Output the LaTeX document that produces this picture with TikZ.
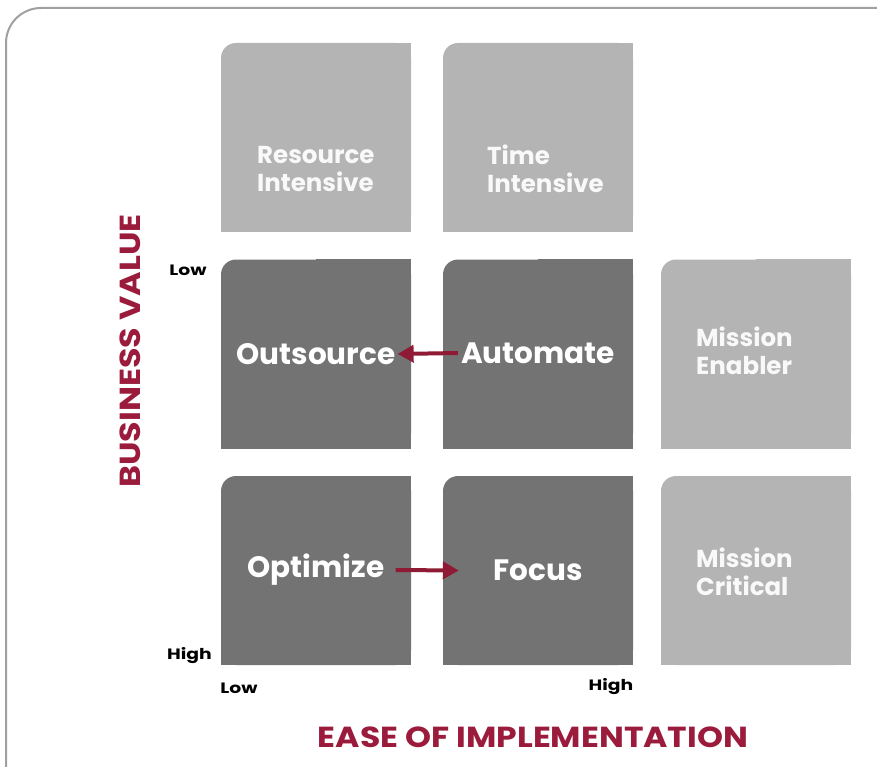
\documentclass[tikz,border=0pt]{standalone}
\usepackage{fontspec}
\setmainfont{Poppins}
\usetikzlibrary{backgrounds,arrows.meta}
\definecolor{lightbox}{HTML}{B4B4B4}
\definecolor{darkbox}{HTML}{737373}
\definecolor{axisred}{HTML}{9B1B3C}
\definecolor{arrowred}{HTML}{8E1A36}
\definecolor{framegray}{HTML}{A0A0A0}
\newcommand{\widetext}[2]{\scalebox{#1}[1]{#2}}
\begin{document}
\begin{tikzpicture}[x=1pt,y=-1pt,
  boxshape/.style={minimum width=190pt, minimum height=189pt, inner sep=0pt, rounded corners=15pt, fill=#1},
  bigtext/.style={text=white, font=\bfseries\fontsize{29.5}{32}\selectfont, inner sep=1pt},
  smalltext/.style={text=white!95!gray, font=\bfseries\fontsize{24.5}{28}\selectfont, align=left, anchor=west, inner sep=0pt},
  ticktext/.style={text=black, font=\bfseries\fontsize{15}{17}\selectfont, inner sep=0pt},
  axistext/.style={text=axisred, font=\bfseries\fontsize{29}{32}\selectfont, inner sep=0pt},
  flow/.style={arrowred, line width=4pt, -{Triangle[length=16pt,width=17pt]}}
]
\useasboundingbox (0,0) rectangle (877,767);
% frame
\draw[framegray, line width=2pt, rounded corners=35pt] (6,767) -- (6,8) -- (877,8);
% boxes
\node[boxshape=lightbox] (A) at (316,137.5) {};
\node[boxshape=lightbox] (B) at (538,137.5) {};
\node[boxshape=darkbox] (C) at (316,354) {};
\node[boxshape=darkbox] (D) at (538,354) {};
\node[boxshape=lightbox] (E) at (756,354) {};
\node[boxshape=darkbox] (F) at (316,570.5) {};
\node[boxshape=darkbox] (G) at (538,570.5) {};
\node[boxshape=lightbox] (H) at (756,570.5) {};
\begin{scope}[on background layer]
\foreach \n/\c in {A/lightbox,B/lightbox,C/darkbox,D/darkbox,E/lightbox,F/darkbox,G/darkbox,H/lightbox}{
  \fill[\c] (\n.north) rectangle (\n.south east);
  \fill[\c] (\n.west) rectangle (\n.south east);
}
\end{scope}
% labels
\node[smalltext] (ta) at (257,169) {Resource\\Intensive};
\node[smalltext] (tb) at (487,169) {Time\\Intensive};
\node[smalltext] (te) at (696,351) {Mission\\Enabler};
\node[smalltext] (th) at (696,572) {Mission\\Critical};
\node[bigtext] (tc) at (316,354) {Outsource};
\node[bigtext] (td) at (538,353) {Automate};
\node[bigtext] (tf) at (316,570) {Optimize};
\node[bigtext] (tg) at (538,570) {Focus};
% arrows
\draw[flow] ([xshift=-2pt]td.west) -- ([xshift=1pt]tc.east);
\draw[flow] ([xshift=10pt]tf.east) -- ([xshift=16pt]G.west);
% axes
\node[ticktext] (ylow) at (188,270) {\widetext{1.25}{Low}};
\node[ticktext] (yhigh) at (189.5,656) {\widetext{1.25}{High}};
\node[ticktext] (xlow) at (239,688) {\widetext{1.25}{Low}};
\node[ticktext] (xhigh) at (611,687) {\widetext{1.25}{High}};
\node[axistext, rotate=90] (yaxis) at (130,351) {\widetext{1.15}{BUSINESS VALUE}};
\node[axistext] (xaxis) at (533,737) {\widetext{1.14}{EASE OF IMPLEMENTATION}};
\end{tikzpicture}
\end{document}
